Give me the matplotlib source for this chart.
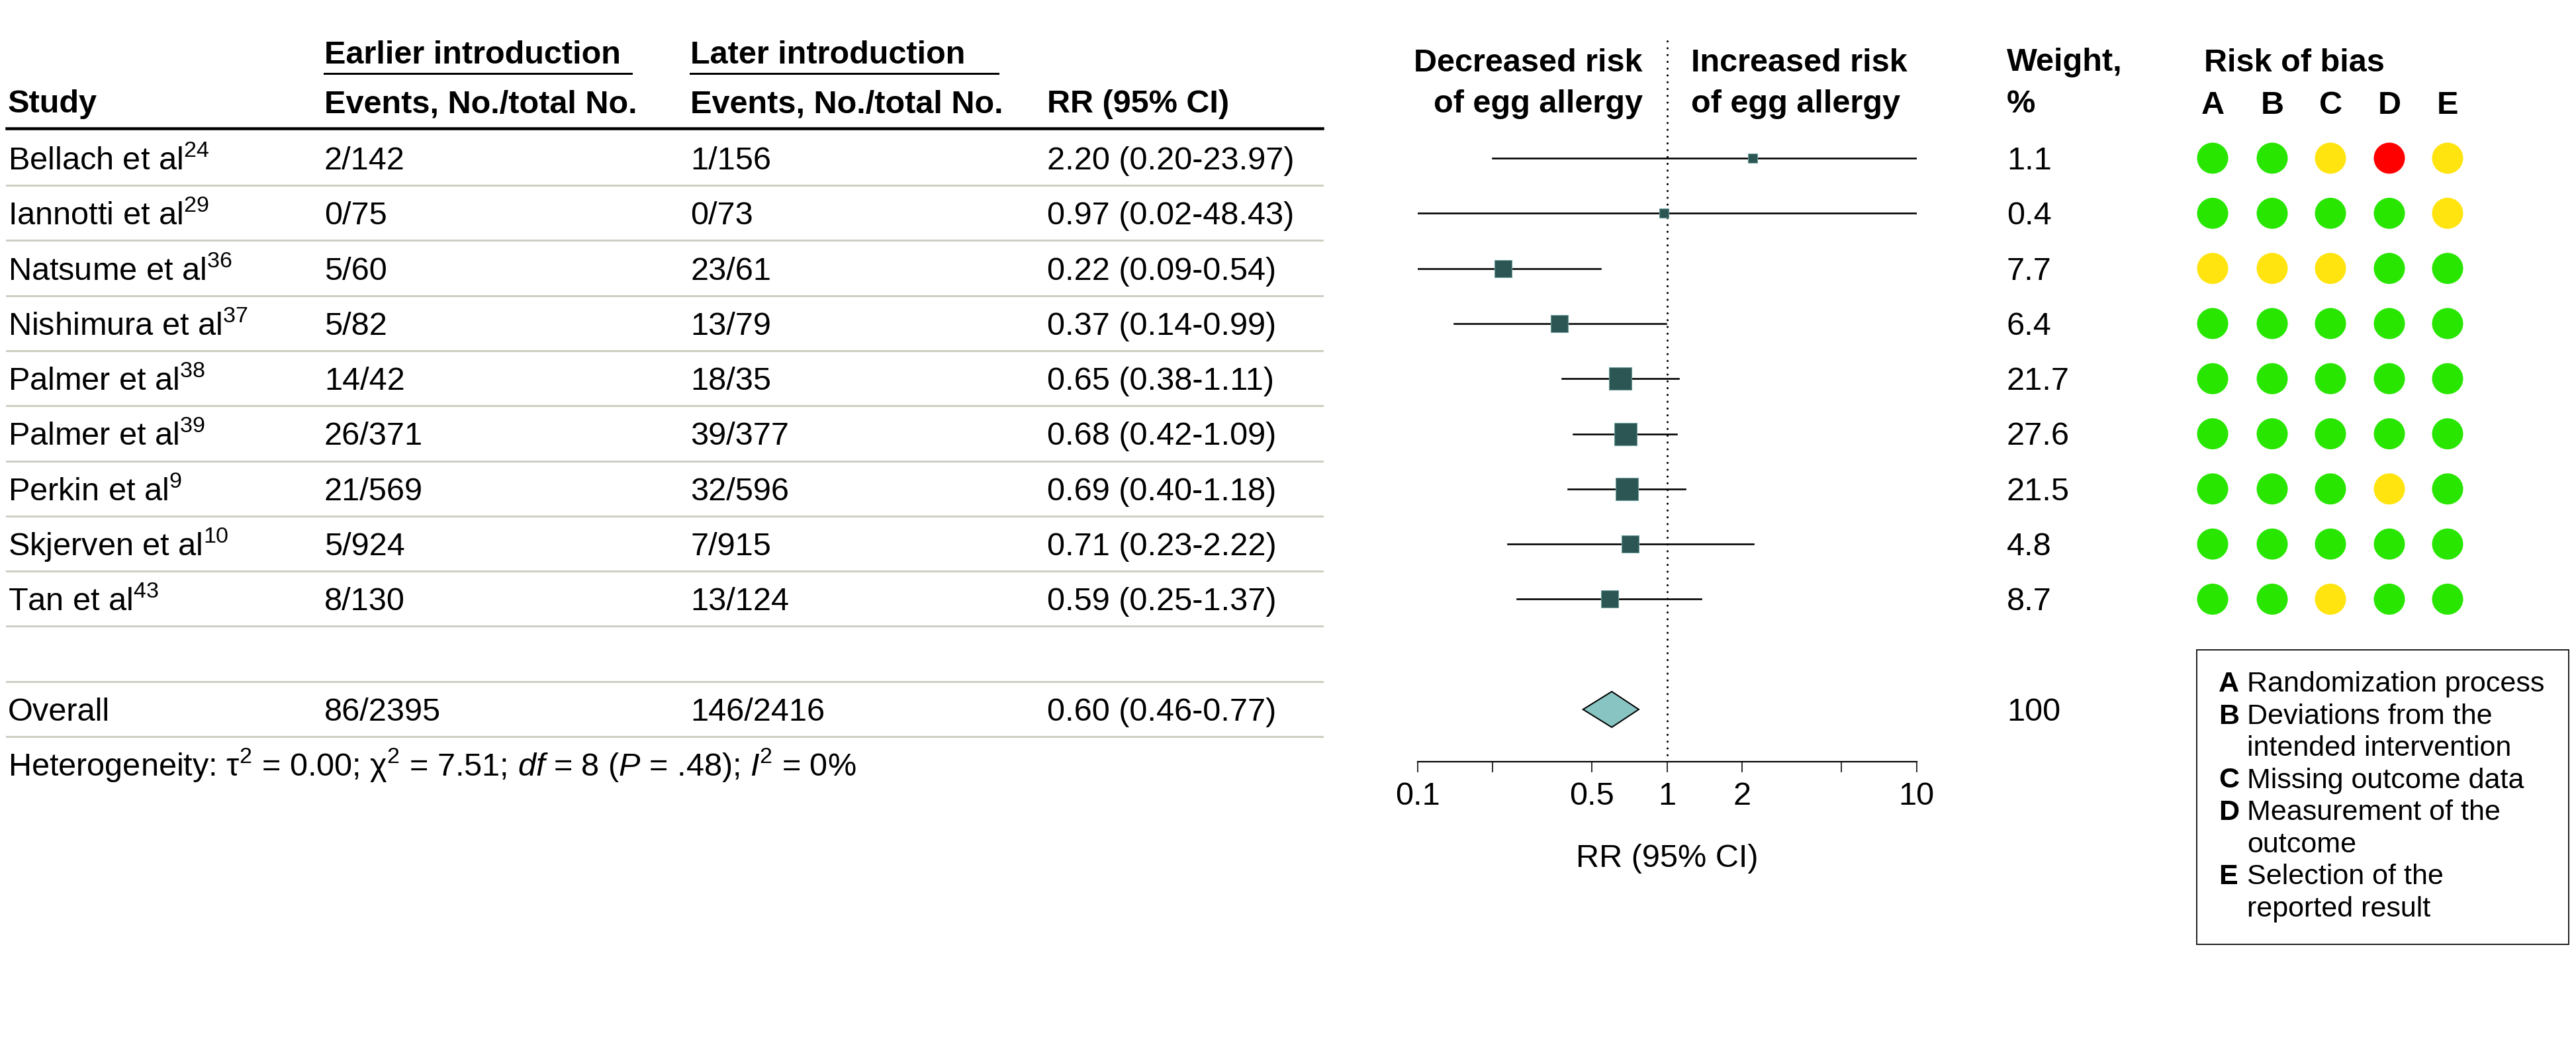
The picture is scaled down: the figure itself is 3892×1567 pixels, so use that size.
import numpy as np
import matplotlib
matplotlib.use("Agg")
import matplotlib.pyplot as plt
from matplotlib.patches import Rectangle, Polygon

plt.rcParams['font.family'] = ['Liberation Sans', 'DejaVu Sans']
plt.rcParams['mathtext.fontset'] = 'custom'
plt.rcParams['mathtext.rm'] = 'Liberation Sans'
plt.rcParams['mathtext.it'] = 'Liberation Sans:italic'
plt.rcParams['mathtext.bf'] = 'Liberation Sans:bold'

# data
studies = ["Bellach et al", "Iannotti et al", "Natsume et al", "Nishimura et al", "Palmer et al",
           "Palmer et al", "Perkin et al", "Skjerven et al", "Tan et al"]
refs = ["24", "29", "36", "37", "38", "39", "9", "10", "43"]
early_events = ["2/142", "0/75", "5/60", "5/82", "14/42", "26/371", "21/569", "5/924", "8/130"]
late_events = ["1/156", "0/73", "23/61", "13/79", "18/35", "39/377", "32/596", "7/915", "13/124"]
rr = [2.20, 0.97, 0.22, 0.37, 0.65, 0.68, 0.69, 0.71, 0.59]
rr_lo = [0.20, 0.02, 0.09, 0.14, 0.38, 0.42, 0.40, 0.23, 0.25]
rr_hi = [23.97, 48.43, 0.54, 0.99, 1.11, 1.09, 1.18, 2.22, 1.37]
weights = [1.1, 0.4, 7.7, 6.4, 21.7, 27.6, 21.5, 4.8, 8.7]
bias = [["G", "G", "Y", "R", "Y"],
        ["G", "G", "G", "G", "Y"],
        ["Y", "Y", "Y", "G", "G"],
        ["G", "G", "G", "G", "G"],
        ["G", "G", "G", "G", "G"],
        ["G", "G", "G", "G", "G"],
        ["G", "G", "G", "Y", "G"],
        ["G", "G", "G", "G", "G"],
        ["G", "G", "Y", "G", "G"]]
bias_domains = ["A", "B", "C", "D", "E"]
bias_labels = [("A", ["Randomization process"]),
               ("B", ["Deviations from the", "intended intervention"]),
               ("C", ["Missing outcome data"]),
               ("D", ["Measurement of the", "outcome"]),
               ("E", ["Selection of the", "reported result"])]
overall_early = "86/2395"
overall_late = "146/2416"
overall_rr, overall_lo, overall_hi = 0.60, 0.46, 0.77
overall_weight = 100
heterogeneity = (r"Heterogeneity: τ$^2$ = 0.00; χ$^2$ = 7.51; $\it{df}$ = 8 "
                 r"($\it{P}$ = .48); $\it{I}$$^2$ = 0%")

bias_colors = {"G": "#28E600", "Y": "#FFE40F", "R": "#FF0000"}

W, H = 3892, 1567
PX = 72 / 100  # points per pixel
FS = 35
ROW0, ROWH = 239, 83.3
n = len(studies)
overall_row = n + 1


def row_y(i):
    return ROW0 + ROWH * i


fig = plt.figure(figsize=(W / 100, H / 100), dpi=100)
ax = fig.add_axes([0, 0, 1, 1])
ax.set_xlim(0, W)
ax.set_ylim(H, 0)
ax.axis("off")

# table header
x_study, x_early, x_late, x_rr, x_w = 12, 490, 1043, 1582, 3032
ax.text(x_early, 96, "Earlier introduction", fontsize=FS, weight="bold", va="baseline")
ax.text(x_late, 96, "Later introduction", fontsize=FS, weight="bold", va="baseline")
ax.plot([x_early, 954], [111, 111], color="black", lw=3 * PX)
ax.plot([x_late, 1508], [111, 111], color="black", lw=3 * PX)
for x, s in [(x_study, "Study"), (x_early, "Events, No./total No."),
             (x_late, "Events, No./total No."), (x_rr, "RR (95% CI)")]:
    ax.text(x, 170, s, fontsize=FS, weight="bold", va="baseline")
ax.plot([10, 1998], [194, 194], color="black", lw=4.5 * PX)

# table rows
for i in range(n):
    yb = row_y(i) + 17
    ax.text(x_study, yb, studies[i] + "$^{%s}$" % refs[i], fontsize=FS, va="baseline")
    ax.text(x_early, yb, early_events[i], fontsize=FS, va="baseline")
    ax.text(x_late, yb, late_events[i], fontsize=FS, va="baseline")
    ax.text(x_rr, yb, f"{rr[i]:.2f} ({rr_lo[i]:.2f}-{rr_hi[i]:.2f})", fontsize=FS, va="baseline")
    ax.text(x_w, yb, f"{weights[i]}", fontsize=FS, va="baseline")

yb = row_y(overall_row) + 17
ax.text(x_study, yb, "Overall", fontsize=FS, va="baseline")
ax.text(x_early, yb, overall_early, fontsize=FS, va="baseline")
ax.text(x_late, yb, overall_late, fontsize=FS, va="baseline")
ax.text(x_rr, yb, f"{overall_rr:.2f} ({overall_lo:.2f}-{overall_hi:.2f})", fontsize=FS, va="baseline")
ax.text(x_w, yb, f"{overall_weight}", fontsize=FS, va="baseline")
ax.text(x_study, row_y(overall_row + 1) + 17, heterogeneity, fontsize=FS, va="baseline")

for i in range(overall_row + 1):
    y = row_y(i) + 41
    ax.plot([10, 1998], [y, y], color="#CBD0C2", lw=3 * PX)

# forest header
ax.text(2482, 108, "Decreased risk", fontsize=FS, weight="bold", ha="right", va="baseline")
ax.text(2482, 170, "of egg allergy", fontsize=FS, weight="bold", ha="right", va="baseline")
ax.text(2555, 108, "Increased risk", fontsize=FS, weight="bold", ha="left", va="baseline")
ax.text(2555, 170, "of egg allergy", fontsize=FS, weight="bold", ha="left", va="baseline")
ax.text(x_w, 107, "Weight,", fontsize=FS, weight="bold", va="baseline")
ax.text(x_w, 170, "%", fontsize=FS, weight="bold", va="baseline")
ax.text(2519, 1310, "RR (95% CI)", fontsize=FS, ha="center", va="baseline")

# risk of bias
bias_x = [3343, 3433, 3521, 3610, 3698]
ax.text(3330, 108, "Risk of bias", fontsize=FS, weight="bold", va="baseline")
for x, d in zip(bias_x, bias_domains):
    ax.text(x, 172, d, fontsize=FS, weight="bold", ha="center", va="baseline")
for i in range(n):
    ax.scatter(bias_x, [row_y(i)] * 5, s=(47 * PX) ** 2,
               c=[bias_colors[b] for b in bias[i]], linewidths=0)

ax.add_patch(Rectangle((3319, 982), 562, 445, fill=False, lw=2 * PX, ec="#222222"))
yb = 1045
LFS = 31
for letter, lines in bias_labels:
    ax.text(3352, yb, letter, fontsize=LFS, weight="bold", va="baseline")
    for ln in lines:
        ax.text(3395, yb, ln, fontsize=LFS, va="baseline")
        yb += 48.5

# forest plot
F_LEFT, F_RIGHT, F_TOP, F_BOT = 2142, 2895.5, 55, 1150.7
fax = fig.add_axes([F_LEFT / W, 1 - F_BOT / H, (F_RIGHT - F_LEFT) / W, (F_BOT - F_TOP) / H])
fax.patch.set_visible(False)
fax.set_xscale("log")
fax.set_xlim(0.1, 10)
fax.set_ylim((F_BOT - ROW0) / ROWH, (F_TOP - ROW0) / ROWH)
for s in ["top", "left", "right"]:
    fax.spines[s].set_visible(False)
fax.spines["bottom"].set_linewidth(2.2 * PX)
fax.set_yticks([])
fax.set_xticks([0.1, 0.2, 0.5, 1, 2, 5, 10])
fax.set_xticklabels(["0.1", "", "0.5", "1", "2", "", "10"])
fax.minorticks_off()
fax.tick_params(axis="x", length=16 * PX, width=1.6 * PX, pad=10, labelsize=FS)

fax.axvline(1, color="black", lw=3.2 * PX, linestyle=(0, (0.01, 3.2)),
            dash_capstyle="round", zorder=1)

box_px = np.where(np.array(weights) < 2, 14, np.where(np.array(weights) < 15, 26, 33.5))
for i in range(n):
    fax.plot([rr_lo[i], rr_hi[i]], [i, i], color="black", lw=2.6 * PX, zorder=2)
    fax.plot(rr[i], i, marker="s", ms=box_px[i] * PX, mfc="#2B5654", mec="#6E9E9B",
             mew=0.8, zorder=3)

h = 27 / ROWH
fax.add_patch(Polygon([(overall_lo, overall_row), (overall_rr, overall_row - h),
                       (overall_hi, overall_row), (overall_rr, overall_row + h)],
                      closed=True, fc="#88C4C2", ec="black", lw=2 * PX, zorder=3))

fig.savefig("out.png", dpi=100)
